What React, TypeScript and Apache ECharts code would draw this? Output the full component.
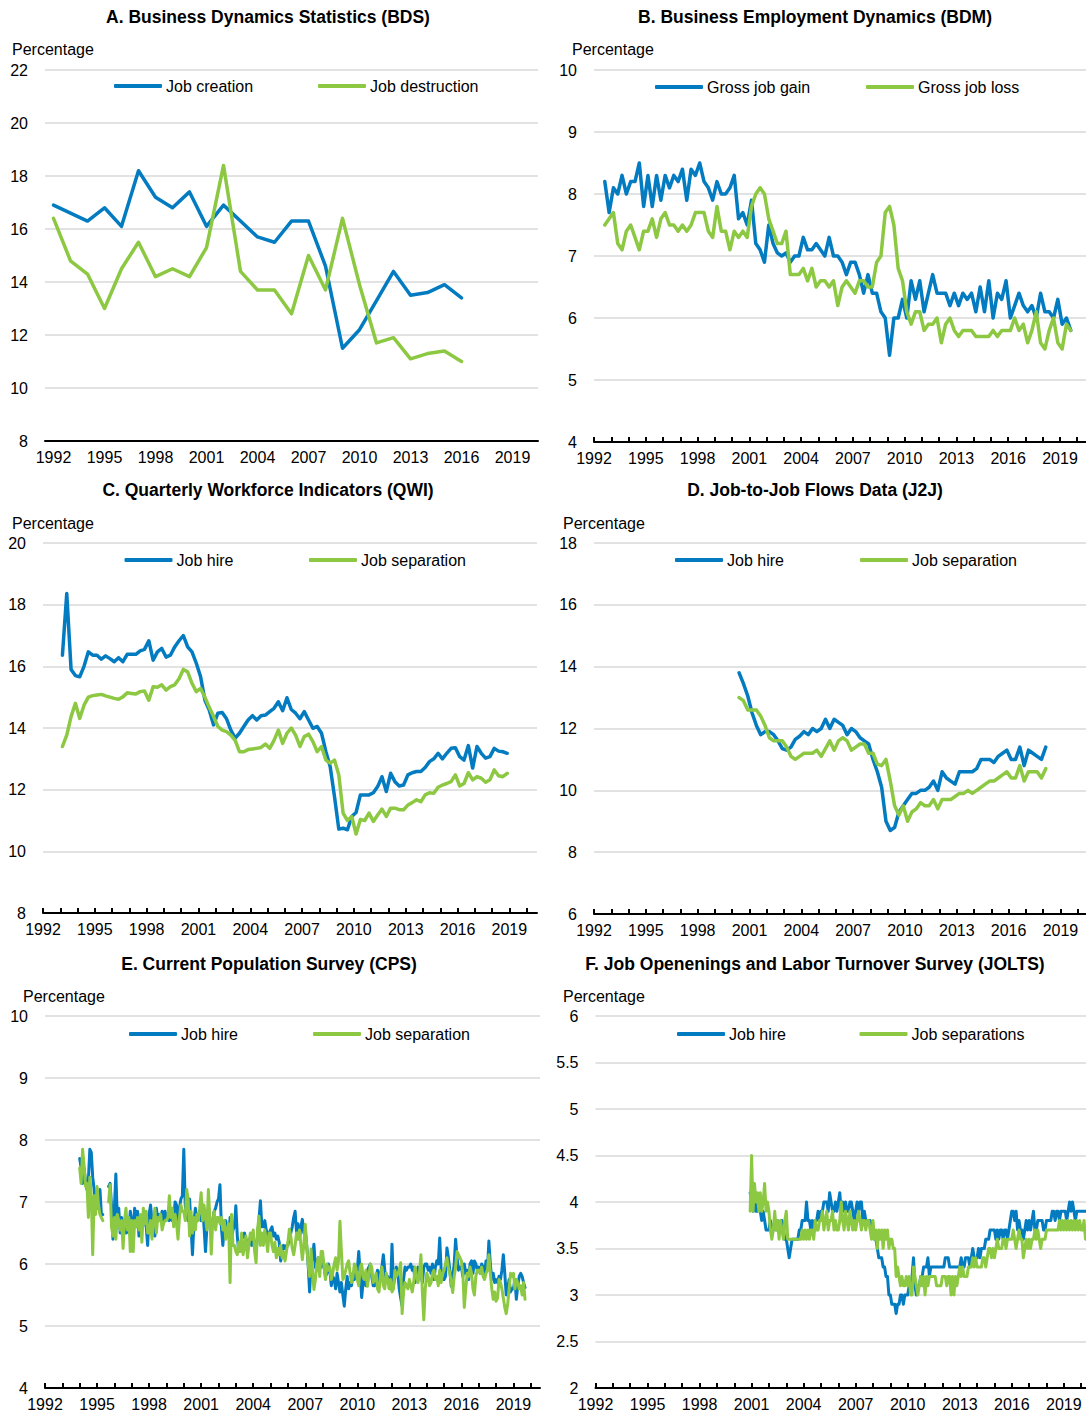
import React, { useEffect, useRef } from "react";
import * as echarts from "echarts";

const FONT = "'Liberation Sans', Arial, sans-serif";
const BLUE = "#037BC1";
const GREEN = "#8CC841";
const GRID_COLOR = "#d9d9d9";

// ---------- Panel A: Business Dynamics Statistics (annual) ----------
const A_CATEGORIES = ["1992","1993","1994","1995","1996","1997","1998","1999","2000","2001","2002","2003","2004","2005","2006","2007","2008","2009","2010","2011","2012","2013","2014","2015","2016","2017","2018","2019","2020"];
const A_CREATION = [16.9, 16.6, 16.3, 16.8, 16.1, 18.2, 17.2, 16.8, 17.4, 16.1, 16.9, 16.3, 15.7, 15.5, 16.3, 16.3, 14.6, 11.5, 12.2, 13.3, 14.4, 13.5, 13.6, 13.9, 13.4];
const A_DESTRUCTION = [16.4, 14.8, 14.3, 13.0, 14.5, 15.5, 14.2, 14.5, 14.2, 15.3, 18.4, 14.4, 13.7, 13.7, 12.8, 15.0, 13.7, 16.4, 13.9, 11.7, 11.9, 11.1, 11.3, 11.4, 11.0];

// ---------- Panel B: Business Employment Dynamics (quarterly, from 1992Q3) ----------
const B_START = 1992.625;
const B_GAIN = [8.2, 7.7, 8.1, 8.0, 8.3, 8.0, 8.2, 8.2, 8.5, 7.8, 8.3, 7.8, 8.3, 7.9, 8.3, 8.1, 8.3, 8.2, 8.4, 7.9, 8.4, 8.3, 8.5, 8.2, 8.1, 7.9, 8.2, 8.0, 8.0, 8.1, 8.3, 7.6, 7.7, 7.5, 7.9, 7.2, 7.1, 6.9, 7.5, 7.2, 7.05, 7.0, 7.05, 6.9, 7.0, 7.0, 7.3, 7.1, 7.1, 7.2, 7.1, 7.0, 7.3, 7.0, 7.0, 6.9, 6.7, 6.9, 6.9, 6.7, 6.4, 6.7, 6.4, 6.4, 6.1, 6.0, 5.4, 6.0, 6.0, 6.3, 6.0, 6.6, 6.3, 6.6, 6.1, 6.4, 6.7, 6.4, 6.4, 6.4, 6.2, 6.4, 6.2, 6.4, 6.3, 6.4, 6.1, 6.5, 6.1, 6.6, 6.0, 6.4, 6.3, 6.6, 6.0, 6.2, 6.4, 6.2, 6.1, 6.2, 6.0, 6.4, 6.1, 6.1, 6.0, 6.3, 5.9, 6.0, 5.8];
const B_LOSS = [7.5, 7.6, 7.7, 7.2, 7.1, 7.4, 7.5, 7.3, 7.1, 7.4, 7.4, 7.6, 7.3, 7.6, 7.7, 7.5, 7.5, 7.4, 7.5, 7.4, 7.5, 7.7, 7.7, 7.7, 7.4, 7.3, 7.8, 7.4, 7.4, 7.1, 7.4, 7.3, 7.4, 7.3, 7.8, 8.0, 8.1, 8.0, 7.6, 7.4, 7.2, 7.2, 7.4, 6.7, 6.7, 6.7, 6.8, 6.6, 6.8, 6.5, 6.6, 6.6, 6.5, 6.6, 6.2, 6.5, 6.6, 6.5, 6.4, 6.6, 6.6, 6.5, 6.5, 6.9, 7.0, 7.7, 7.8, 7.5, 6.8, 6.6, 6.1, 5.9, 6.1, 6.1, 5.8, 5.9, 5.9, 6.0, 5.6, 5.9, 6.0, 5.8, 5.7, 5.8, 5.8, 5.8, 5.7, 5.7, 5.7, 5.7, 5.8, 5.7, 5.8, 5.8, 5.8, 6.0, 5.8, 5.9, 5.6, 5.8, 6.1, 5.6, 5.5, 5.8, 6.0, 5.6, 5.5, 5.9, 5.8];

// ---------- Panel C: Quarterly Workforce Indicators (quarterly, from 1993Q1) ----------
const C_START = 1993.125;
const C_HIRE = [16.36, 18.36, 15.9, 15.7, 15.66, 16.0, 16.47, 16.36, 16.36, 16.23, 16.34, 16.25, 16.15, 16.28, 16.15, 16.39, 16.39, 16.39, 16.5, 16.55, 16.83, 16.2, 16.47, 16.58, 16.3, 16.36, 16.63, 16.83, 17.0, 16.63, 16.47, 16.1, 15.66, 14.9, 14.58, 14.1, 14.48, 14.5, 14.3, 13.93, 13.67, 13.83, 14.05, 14.26, 14.4, 14.26, 14.4, 14.42, 14.53, 14.64, 14.85, 14.56, 14.98, 14.6, 14.48, 14.3, 14.53, 14.26, 13.99, 14.05, 13.83, 13.24, 12.75, 11.78, 10.72, 10.75, 10.7, 11.13, 11.26, 11.83, 11.83, 11.83, 11.9, 12.1, 12.42, 11.94, 12.53, 12.26, 12.12, 12.15, 12.48, 12.55, 12.59, 12.59, 12.72, 12.91, 13.0, 13.18, 13.0, 13.18, 13.34, 13.36, 13.07, 12.96, 13.43, 12.7, 13.4, 13.18, 13.02, 13.07, 13.34, 13.25, 13.23, 13.18];
const C_SEP = [13.4, 13.77, 14.37, 14.8, 14.31, 14.74, 15.0, 15.05, 15.07, 15.09, 15.04, 15.0, 14.96, 14.93, 15.01, 15.14, 15.12, 15.1, 15.18, 15.2, 14.9, 15.34, 15.32, 15.4, 15.23, 15.34, 15.4, 15.6, 15.9, 15.82, 15.45, 15.18, 15.28, 15.0, 14.67, 14.37, 14.05, 13.93, 13.88, 13.77, 13.6, 13.23, 13.23, 13.3, 13.32, 13.34, 13.37, 13.48, 13.34, 13.6, 13.93, 13.5, 13.83, 14.0, 13.77, 13.4, 13.72, 13.8, 13.56, 13.23, 13.4, 12.96, 12.86, 12.96, 12.48, 11.24, 11.0, 11.13, 10.56, 11.03, 11.0, 11.24, 10.97, 11.18, 11.37, 11.13, 11.4, 11.4, 11.35, 11.35, 11.5, 11.58, 11.67, 11.61, 11.83, 11.9, 11.88, 12.08, 12.15, 12.2, 12.26, 12.48, 12.12, 12.2, 12.55, 12.32, 12.42, 12.37, 12.24, 12.32, 12.64, 12.45, 12.42, 12.53];

// ---------- Panel D: Job-to-Job Flows (quarterly, from 2000Q2) ----------
const D_START = 2000.4;
const D_HIRE = [13.8, 13.45, 13.05, 12.5, 12.1, 11.8, 11.9, 11.9, 11.8, 11.6, 11.35, 11.3, 11.4, 11.65, 11.75, 11.9, 11.8, 12.0, 11.9, 12.0, 12.3, 12.0, 12.3, 12.2, 12.1, 11.8, 12.0, 11.9, 11.7, 11.6, 11.5, 11.0, 10.6, 10.1, 9.0, 8.7, 8.8, 9.3, 9.5, 9.7, 9.9, 9.9, 10.0, 10.0, 10.1, 10.3, 10.0, 10.6, 10.4, 10.3, 10.2, 10.6, 10.6, 10.6, 10.6, 10.7, 11.0, 11.0, 11.0, 10.9, 11.1, 11.2, 11.3, 11.0, 11.0, 11.4, 10.8, 11.3, 11.2, 11.1, 11.0, 11.4];
const D_SEP = [13.0, 12.9, 12.6, 12.6, 12.6, 12.4, 12.1, 11.7, 11.6, 11.6, 11.6, 11.4, 11.1, 11.0, 11.1, 11.2, 11.2, 11.2, 11.3, 11.1, 11.35, 11.6, 11.3, 11.6, 11.7, 11.6, 11.3, 11.4, 11.5, 11.5, 11.2, 11.2, 10.85, 10.8, 11.0, 10.3, 9.5, 9.2, 9.5, 9.0, 9.3, 9.4, 9.6, 9.5, 9.5, 9.7, 9.4, 9.7, 9.7, 9.7, 9.8, 9.9, 9.9, 10.0, 9.9, 10.0, 10.1, 10.2, 10.3, 10.3, 10.4, 10.5, 10.6, 10.4, 10.4, 10.8, 10.3, 10.6, 10.6, 10.6, 10.4, 10.7];

// ---------- Panel E: Current Population Survey (monthly, from Jan 1994) ----------
const E_START = 1994.0;
const E_HIRE = [
  7.7, 7.55, 7.3, 7.55, 7.35, 7.2, 7.35, 7.85, 7.8, 7.4, 7.2, 6.95,
  6.9, 6.95, 7.2, 6.8, 6.8, null, null, null, 7.25, 7.3, 6.95, 6.4,
  6.9, 7.45, 6.75, 6.9, 6.5, 6.75, 6.55, 6.7, 6.5, 6.65, 6.5, 6.85,
  6.7, 6.45, 6.9, 6.6, 6.85, 6.45, 6.65, 6.55, 6.8, 6.7, 6.6, 6.3,
  6.8, 6.95, 6.7, 6.75, 6.45, 6.9, 6.7, 6.8, 6.7, 6.85, 6.7, 6.85,
  6.75, 6.8, 6.7, 6.85, 6.7, 6.75, 7.0, 6.95, 6.7, 6.9, 7.05, 7.1,
  7.85, 6.95, 6.8, 6.7, 7.05, 6.6, 6.15, 6.65, 6.9, 6.7, 6.8, 6.75,
  6.7, 6.95, 6.6, 6.2, 6.6, 6.85, 6.7, 6.55, 6.7, 6.85, 6.9, 7.0,
  7.05, 7.28, 6.6, 6.3, 6.6, 6.7, 6.55, 6.45, 6.75, 6.35, 6.55, 6.6,
  6.94, 6.45, 6.2, 6.3, 6.4, 6.45, 6.5, 6.35, 6.2, 6.4, 6.4, 6.3,
  6.4, 6.35, 6.2, 6.45, 6.72, 7.02, 6.6, 6.6, 6.7, 6.55, 6.45, 6.5,
  6.55, 6.6, 6.45, 6.5, 6.4, 6.45, 6.35, 6.05, 6.2, 6.3, 6.25, 6.3,
  6.3, 6.45, 6.5, 6.6, 6.75, 6.85, 6.5, 6.65, 6.4, 6.6, 6.72, 6.5,
  6.55, 6.3, 6.0, 5.55, 6.0, 6.1, 6.32, 5.95, 5.9, 6.1, 6.0, 5.95,
  6.1, 5.95, 5.8, 5.85, 6.0, 5.9, 5.65, 5.8, 5.75, 5.6, 5.85, 5.7,
  5.55, 5.7, 5.5, 5.32, 5.6, 5.8, 5.6, 5.7, 5.65, 5.85, 5.75, 5.9,
  5.9, 6.2, 5.85, 5.46, 5.7, 5.8, 5.65, 5.9, 5.95, 6.0, 5.8, 5.65,
  5.65, 5.8, 5.9, 5.7, 5.85, 5.95, 6.15, 5.9, 5.75, 5.8, 5.7, 5.6,
  6.32, 5.65, 5.8, 5.95, 5.85, 5.6, 5.45, 5.32, 5.75, 5.95, 5.9, 5.95,
  5.95, 6.0, 5.9, 5.95, 5.7, 5.85, 5.95, 5.8, 5.85, 5.7, 5.95, 6.0,
  6.0, 5.9, 5.95, 5.85, 6.0, 5.75, 5.95, 6.05, 6.0, 6.42, 5.9, 5.75,
  5.75, 5.8, 6.26, 6.1, 5.9, 5.64, 5.8, 6.0, 6.4, 6.1, 5.9, 5.95,
  5.95, 5.8, 6.0, 5.85, 5.9, 5.75, 6.0, 6.05, 5.85, 6.05, 6.0, 5.9,
  5.95, 5.85, 6.0, 5.95, 5.8, 6.05, 5.9, 6.37, 6.0, 5.75, 5.85, 5.7,
  5.75, 5.7, 5.8, 5.75, 5.9, 6.15, 5.85, 5.5, 5.6, 5.75, 5.55, 5.6,
  5.6, 5.75, 5.43, 5.65, 5.8, 5.85, 5.8, 5.7, 5.62,
];
const E_SEP = [
  7.55, 7.3, 7.85, 7.6, 7.25, 7.3, 6.75, 7.4, 7.1, 6.15, 7.1, 6.8,
  7.25, 6.95, 6.8, 6.75, 6.7, null, null, null, 7.0, 7.28, 6.6, 6.45,
  6.75, 6.4, 6.8, 6.7, 6.55, 6.7, 6.25, 6.7, 6.9, 6.55, 6.75, 6.2,
  6.7, 6.2, 6.7, 6.6, 6.75, 6.55, 6.8, 6.35, 6.9, 6.65, 6.85, 6.5,
  6.5, 6.7, 6.4, 6.7, 6.9, 6.5, 6.75, 6.7, 6.8, 6.55, 6.65, 6.7,
  6.7, 6.75, 7.1, 6.75, 6.9, 6.6, 6.8, 6.65, 6.4, 6.75, 6.95, 6.85,
  6.85, 6.7, 7.2, 7.05, 6.45, 6.85, 6.5, 6.75, 6.55, 6.8, 6.7, 6.9,
  7.15, 6.7, 6.95, 6.75, 6.55, 7.2, 6.75, 6.16, 6.7, 6.85, 6.55, 6.75,
  6.75, 6.65, 6.75, 6.55, 6.7, 6.4, 6.55, 6.65, 5.7, 6.8, 6.3, 6.3,
  6.2, 6.15, 6.35, 6.2, 6.5, 6.15, 6.3, 6.45, 6.1, 6.3, 6.5, 6.4,
  6.55, 6.2, 6.02, 6.55, 6.77, 6.3, 6.5, 6.3, 6.55, 6.4, 6.2, 6.5,
  6.5, 6.3, 6.2, 6.35, 6.1, 6.25, 6.15, 6.3, 6.1, 6.2, 6.05, 6.2,
  6.35, 6.56, 6.45, 6.25, 6.15, 6.3, 6.5, 6.4, 6.55, 6.3, 6.07, 6.3,
  6.64, 6.3, 6.0, 5.8, 6.24, 5.9, 5.59, 5.75, 6.0, 6.1, 5.8, 6.2,
  6.2, 5.95, 5.75, 6.0, 5.9, 5.95, 5.75, 5.85, 6.0, 6.1, 5.9, 6.05,
  6.69, 6.2, 5.75, 5.8, 5.9, 6.0, 6.05, 5.85, 5.7, 5.8, 6.0, 5.95,
  5.75, 5.65, 5.95, 6.0, 5.8, 5.75, 5.9, 5.64, 5.8, 6.0, 5.95, 5.7,
  5.75, 5.85, 5.6, 5.55, 5.8, 5.95, 5.65, 5.6, 5.85, 5.75, 5.6, 5.75,
  5.55, 5.6, 5.9, 5.8, 5.85, 5.9, 6.02, 5.2, 5.55, 5.7, 5.65, 5.6,
  5.75, 5.65, 5.55, 5.7, 5.95, 5.8, 5.7, 5.85, 6.15, 5.55, 5.1, 5.6,
  5.85, 5.8, 5.65, 5.7, 5.85, 5.9, 5.75, 5.8, 5.65, 5.9, 5.7, 5.85,
  5.9, 6.0, 6.1, 5.95, 5.85, 5.7, 5.54, 5.8, 5.95, 6.2, 6.15, 6.1,
  6.05, 5.85, 5.3, 5.6, 5.85, 5.8, 5.95, 5.85, 5.6, 5.5, 5.8, 5.9,
  5.9, 5.85, 5.95, 5.8, 5.75, 5.85, 5.9, 6.15, 5.85, 5.6, 5.43, 5.55,
  5.4, 5.45, 5.75, 5.7, 5.6, 5.45, 5.3, 5.2, 5.35, 5.6, 5.85, 5.8,
  5.85, 5.6, 5.75, 5.7, 5.6, 5.65, 5.5, 5.7, 5.43,
];

// ---------- Panel F: JOLTS (monthly, from Dec 2000) ----------
const F_START = 2000 + 11 / 12;
const F_HIRE = [
  4.1,
  4.0, 3.9, 4.1, 3.9, 3.9, 4.0, 3.9, 3.8, 3.9, 3.8, 3.7, 3.7,
  3.7, 3.8, 3.7, 3.7, 3.8, 3.7, 3.8, 3.7, 3.7, 3.8, 3.7, 3.6,
  3.6, 3.5, 3.4, 3.5, 3.6, 3.6, 3.6, 3.6, 3.6, 3.7, 3.7, 3.8,
  3.8, 3.8, 4.0, 3.8, 3.8, 3.7, 3.8, 3.7, 3.8, 3.8, 3.9, 3.8,
  3.9, 3.9, 4.0, 4.0, 4.0, 3.9, 4.1, 4.0, 3.9, 3.9, 4.0, 3.9,
  4.0, 4.1, 3.9, 4.0, 3.9, 4.0, 3.9, 3.9, 4.0, 4.0, 3.9, 3.8,
  3.9, 4.0, 3.9, 4.0, 4.0, 3.8, 3.9, 3.8, 3.8, 3.8, 3.8, 3.7,
  3.7, 3.6, 3.6, 3.5, 3.4, 3.4, 3.4, 3.3, 3.3, 3.2, 3.2, 3.0,
  3.0, 2.9, 2.9, 2.9, 2.8, 2.9, 2.9, 3.0, 3.0, 2.9, 3.0, 3.0,
  3.0, 3.1, 3.1, 3.2, 3.4, 3.1, 3.0, 3.1, 3.1, 3.2, 3.2, 3.3,
  3.3, 3.3, 3.4, 3.2, 3.3, 3.3, 3.3, 3.3, 3.3, 3.3, 3.3, 3.3,
  3.3, 3.3, 3.4, 3.4, 3.4, 3.3, 3.3, 3.3, 3.3, 3.3, 3.3, 3.3,
  3.3, 3.4, 3.3, 3.3, 3.4, 3.4, 3.4, 3.3, 3.4, 3.5, 3.4, 3.4,
  3.4, 3.5, 3.4, 3.5, 3.5, 3.5, 3.6, 3.6, 3.6, 3.7, 3.7, 3.7,
  3.7, 3.6, 3.7, 3.6, 3.7, 3.7, 3.6, 3.7, 3.7, 3.6, 3.7, 3.8,
  3.9, 3.9, 3.8, 3.9, 3.7, 3.8, 3.7, 3.7, 3.6, 3.7, 3.8, 3.7,
  3.8, 3.7, 3.8, 3.9, 3.7, 3.7, 3.8, 3.8, 3.8, 3.8, 3.7, 3.7,
  3.8, 3.8, 3.8, 3.8, 3.9, 3.9, 3.8, 3.9, 3.9, 3.8, 3.9, 3.9,
  3.9, 3.9, 3.8, 3.9, 4.0, 3.9, 4.0, 3.9, 3.8, 3.9, 3.9, 3.9,
  3.9, 3.9, 3.9, 3.9,
];
const F_SEP = [
  3.9,
  4.5, 3.9, 4.2, 4.0, 4.1, 3.9, 4.1, 3.9, 4.0, 4.2, 3.9, 4.0,
  3.9, 3.7, 3.6, 3.7, 3.9, 3.7, 3.8, 3.6, 3.8, 3.7, 3.6, 3.8,
  3.9, 3.6, 3.6, 3.6, 3.6, 3.6, 3.6, 3.6, 3.6, 3.6, 3.6, 3.7,
  3.6, 3.7, 3.6, 3.7, 3.6, 3.7, 3.7, 3.6, 3.8, 3.7, 3.7, 3.8,
  3.8, 3.9, 3.7, 3.8, 3.9, 3.7, 3.8, 3.8, 3.9, 3.7, 3.8, 3.7,
  3.7, 3.8, 4.0, 3.8, 3.7, 3.9, 3.8, 3.7, 3.9, 3.8, 3.7, 3.8,
  3.7, 3.8, 3.9, 3.8, 3.7, 3.8, 3.8, 3.7, 3.8, 3.8, 3.7, 3.6,
  3.8, 3.6, 3.7, 3.5, 3.7, 3.6, 3.7, 3.5, 3.7, 3.6, 3.7, 3.5,
  3.6, 3.6, 3.5, 3.5, 3.2, 3.3, 3.2, 3.1, 3.2, 3.1, 3.1, 3.2,
  3.1, 3.2, 3.0, 3.0, 3.3, 3.2, 3.1, 3.0, 3.1, 3.2, 3.1, 3.2,
  3.0, 3.2, 3.1, 3.2, 3.2, 3.2, 3.2, 3.2, 3.1, 3.1, 3.1, 3.1,
  3.2, 3.2, 3.2, 3.1, 3.2, 3.2, 3.0, 3.2, 3.0, 3.2, 3.1, 3.2,
  3.3, 3.2, 3.3, 3.2, 3.2, 3.2, 3.3, 3.3, 3.3, 3.4, 3.3, 3.4,
  3.3, 3.3, 3.3, 3.3, 3.4, 3.4, 3.3, 3.4, 3.5, 3.5, 3.4, 3.5,
  3.4, 3.5, 3.6, 3.5, 3.5, 3.5, 3.6, 3.6, 3.5, 3.6, 3.6, 3.6,
  3.6, 3.7, 3.6, 3.5, 3.6, 3.7, 3.6, 3.6, 3.4, 3.5, 3.6, 3.5,
  3.6, 3.5, 3.6, 3.6, 3.7, 3.6, 3.7, 3.6, 3.5, 3.6, 3.6, 3.6,
  3.7, 3.7, 3.7, 3.7, 3.7, 3.7, 3.7, 3.7, 3.7, 3.8, 3.7, 3.8,
  3.7, 3.8, 3.7, 3.8, 3.7, 3.8, 3.7, 3.8, 3.7, 3.8, 3.7, 3.8,
  3.7, 3.7, 3.8, 3.6,
];

// ---------- Axis ticks / labels ----------
const TICK_YEARS = [1992,1993,1994,1995,1996,1997,1998,1999,2000,2001,2002,2003,2004,2005,2006,2007,2008,2009,2010,2011,2012,2013,2014,2015,2016,2017,2018,2019,2020];
const LABEL_YEARS = [1992,1995,1998,2001,2004,2007,2010,2013,2016,2019];

const TITLES = [
  "A. Business Dynamics Statistics (BDS)",
  "B. Business Employment Dynamics (BDM)",
  "C. Quarterly Workforce Indicators (QWI)",
  "D. Job-to-Job Flows Data (J2J)",
  "E. Current Population Survey (CPS)",
  "F. Job Openenings and Labor Turnover Survey (JOLTS)",
];
const LEGENDS = [
  ["Job creation", "Job destruction"],
  ["Gross job gain", "Gross job loss"],
  ["Job hire", "Job separation"],
  ["Job hire", "Job separation"],
  ["Job hire", "Job separation"],
  ["Job hire", "Job separations"],
];
const Y_RANGES = [
  [8, 22, 2],
  [4, 10, 1],
  [8, 20, 2],
  [6, 18, 2],
  [4, 10, 1],
  [2, 6, 0.5],
];

function pairs(start: number, step: number, vals: (number | null)[]) {
  return vals.map((v, i) => [start + i * step, v === null ? "-" : v]);
}

// layout (pixels)
const CHART_W = 1110;
const GRIDS = [
  { left: 45, top: 70, width: 493, height: 371 },
  { left: 594, top: 70, width: 500.5, height: 372 },
  { left: 43, top: 543, width: 494, height: 370 },
  { left: 594, top: 543, width: 501, height: 371 },
  { left: 45, top: 1016, width: 495, height: 372 },
  { left: 595.5, top: 1016, width: 503, height: 372 },
];
const X_MAX = [0, 2021, 2020.6, 2021, 2020.53, 2021];
const TITLE_POS = [[268, 17], [815, 17], [268, 490], [815, 490], [269, 964], [815, 964]];
const PCT_POS = [[12, 49], [572, 49], [12, 523], [563, 523], [23, 996], [563, 996]];
const LEGEND_POS = [
  [114, 318, 87], [655, 866, 88], [124.5, 309, 561], [675, 860, 561], [129, 313, 1035], [677, 859.5, 1035],
];

export default function App() {
  const ref = useRef<HTMLDivElement>(null);
  useEffect(() => {
    if (!ref.current) return;
    const chart = echarts.init(ref.current, null, { renderer: "svg" });

    const axisLineStyle = { color: "#000", width: 2 };
    const labelStyle = { fontSize: 16, fontFamily: FONT, color: "#000" };

    const xAxis: any[] = GRIDS.map((_, i) => {
      if (i === 0) {
        return {
          type: "category", gridIndex: 0, data: A_CATEGORIES, boundaryGap: true,
          axisLine: { lineStyle: axisLineStyle },
          axisTick: { inside: true, length: 5, interval: 0, lineStyle: axisLineStyle },
          axisLabel: { ...labelStyle, interval: 2, margin: 8 },
          splitLine: { show: false },
        };
      }
      return {
        type: "value", gridIndex: i, min: 1992, max: X_MAX[i],
        axisLine: { lineStyle: axisLineStyle, onZero: false },
        axisTick: { inside: true, length: 5, customValues: TICK_YEARS, lineStyle: axisLineStyle },
        axisLabel: { ...labelStyle, margin: 8, customValues: LABEL_YEARS, formatter: (v: number) => String(v) },
        splitLine: { show: false },
      };
    });
    const yAxis = GRIDS.map((_, i) => ({
      type: "value", gridIndex: i, min: Y_RANGES[i][0], max: Y_RANGES[i][1], interval: Y_RANGES[i][2],
      axisLine: { show: false }, axisTick: { show: false },
      axisLabel: { ...labelStyle, margin: 17 },
      splitLine: { lineStyle: { color: GRID_COLOR, width: 1.5 } },
    }));

    const lineSeries = (name: string, idx: number, data: any[], color: string, width: number) => ({
      name, type: "line", xAxisIndex: idx, yAxisIndex: idx, data,
      symbol: "none", showSymbol: false, connectNulls: false,
      lineStyle: { color, width, cap: "round", join: "round" }, itemStyle: { color },
      emphasis: { disabled: true },
    });

    const series = [
      lineSeries(LEGENDS[0][0], 0, A_CREATION, BLUE, 3.5),
      lineSeries(LEGENDS[0][1], 0, A_DESTRUCTION, GREEN, 3.5),
      lineSeries(LEGENDS[1][0], 1, pairs(B_START, 0.25, B_GAIN), BLUE, 3.5),
      lineSeries(LEGENDS[1][1], 1, pairs(B_START, 0.25, B_LOSS), GREEN, 3.5),
      lineSeries(LEGENDS[2][0], 2, pairs(C_START, 0.25, C_HIRE), BLUE, 3.5),
      lineSeries(LEGENDS[2][1], 2, pairs(C_START, 0.25, C_SEP), GREEN, 3.5),
      lineSeries(LEGENDS[3][0], 3, pairs(D_START, 0.25, D_HIRE), BLUE, 3.5),
      lineSeries(LEGENDS[3][1], 3, pairs(D_START, 0.25, D_SEP), GREEN, 3.5),
      lineSeries(LEGENDS[4][0], 4, pairs(E_START, 1 / 12, E_HIRE), BLUE, 3),
      lineSeries(LEGENDS[4][1], 4, pairs(E_START, 1 / 12, E_SEP), GREEN, 3),
      lineSeries(LEGENDS[5][0], 5, pairs(F_START, 1 / 12, F_HIRE), BLUE, 3),
      lineSeries(LEGENDS[5][1], 5, pairs(F_START, 1 / 12, F_SEP), GREEN, 3),
    ];

    const legend: any[] = [];
    LEGENDS.forEach((names, i) => {
      const [l1, l2, cy] = LEGEND_POS[i];
      [l1, l2].forEach((lx, k) => {
        legend.push({
          data: [{ name: names[k], itemStyle: { color: k === 0 ? BLUE : GREEN } }],
          left: lx, top: cy - 9, padding: 0, itemGap: 0,
          icon: "roundRect", itemWidth: 48, itemHeight: 4,
          selectedMode: false,
          textStyle: { ...labelStyle, padding: [0, 0, 0, -1] },
        });
      });
    });

    const graphic: any[] = [];
    TITLES.forEach((t, i) => {
      graphic.push({
        type: "text", x: TITLE_POS[i][0], y: TITLE_POS[i][1],
        style: { text: t, fill: "#000", font: `bold 17.5px ${FONT}`, align: "center", verticalAlign: "middle" },
      });
      graphic.push({
        type: "text", x: PCT_POS[i][0], y: PCT_POS[i][1],
        style: { text: "Percentage", fill: "#000", font: `16px ${FONT}`, align: "left", verticalAlign: "middle" },
      });
    });

    chart.setOption({
      animation: false,
      backgroundColor: "#fff",
      grid: GRIDS.map((g) => ({ ...g, containLabel: false })),
      xAxis, yAxis, series, legend, graphic,
    });
    return () => chart.dispose();
  }, []);

  return (
    <div style={{ position: "absolute", left: 0, top: 0, width: 1086, height: 1414, overflow: "hidden", background: "#fff" }}>
      <div ref={ref} style={{ width: CHART_W, height: 1414 }} />
    </div>
  );
}
